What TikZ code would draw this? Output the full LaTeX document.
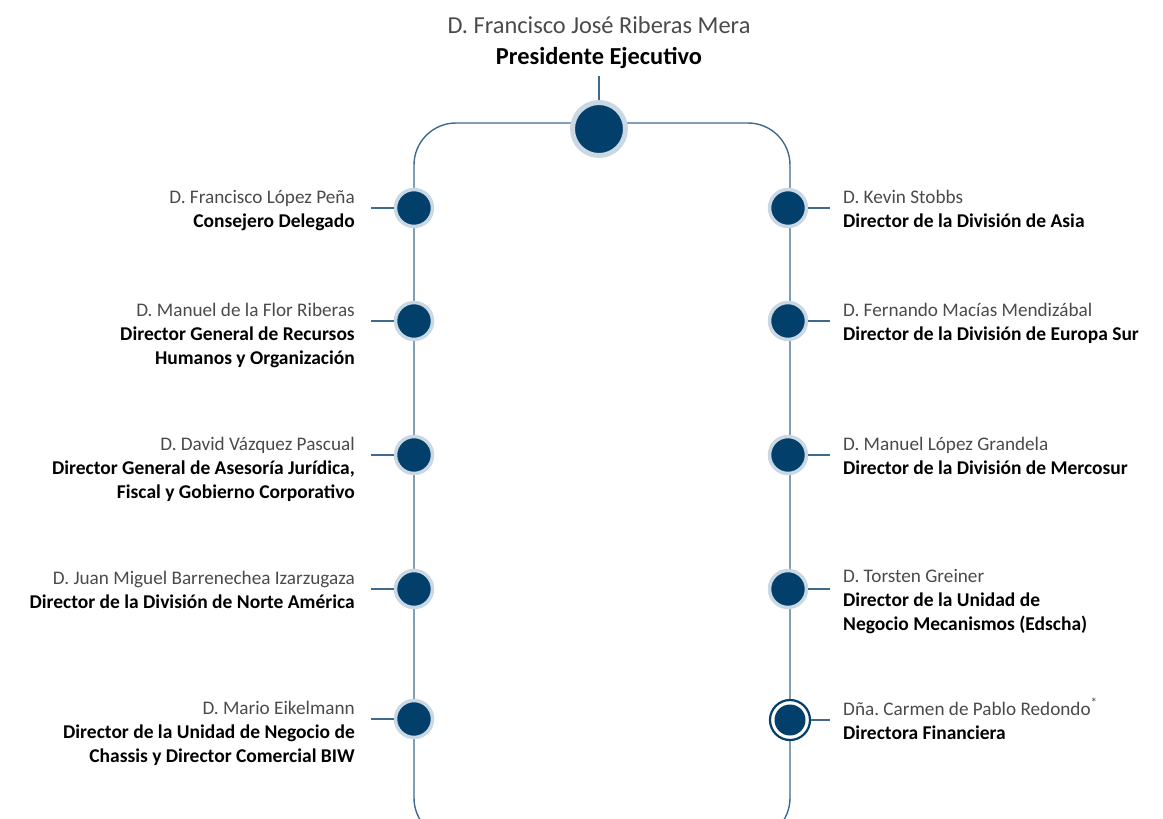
\documentclass[tikz,border=0pt]{standalone}
\usepackage{fontspec}
\setmainfont{Carlito}
\definecolor{navy}{HTML}{023F6A}
\definecolor{halo}{HTML}{CAD8E4}
\definecolor{linec}{HTML}{3D6A8E}
\definecolor{namegray}{HTML}{4A4A4A}
\newcommand{\pname}[1]{{\color{namegray}\fontsize{19.2}{24}\selectfont #1}}
\newcommand{\ptitle}[1]{{\bfseries #1}}
\tikzset{
  frame/.style={draw=linec, line width=1.4pt},
  conn/.style={draw=linec, line width=1.2pt},
  topnode/.style={circle, fill=navy, draw=halo, line width=5pt, minimum size=53pt, inner sep=0pt},
  pnode/.style={circle, fill=navy, draw=halo, line width=3.5pt, minimum size=37pt, inner sep=0pt},
  ringnode/.style={circle, fill=white, draw=navy, line width=2.2pt, minimum size=40pt, inner sep=0pt},
  innernode/.style={circle, fill=navy, minimum size=31pt, inner sep=0pt},
  lbl/.style={inner sep=0pt, font=\fontsize{19.5}{24}\selectfont},
  lleft/.style={lbl, anchor=north east, align=right},
  lright/.style={lbl, anchor=north west, align=left},
}
\begin{document}
\begin{tikzpicture}[x=1pt,y=-1pt]
\useasboundingbox (0,0) rectangle (1163,819);
\begin{scope}
\clip (0,0) rectangle (1163,819);
\draw[frame, rounded corners=42pt] (599,123) -- (790,123) -- (790,840) -- (414,840) -- (414,123) -- cycle;
\end{scope}

% top
\node[inner sep=0pt, anchor=base, font=\fontsize{24.4}{28}\selectfont] (presname) at (599,33) {\color{namegray}D. Francisco José Riberas Mera};
\node[inner sep=0pt, anchor=base, font=\fontsize{24.4}{28}\selectfont\bfseries] (prestitle) at (599,64) {Presidente Ejecutivo};
\coordinate (prestop) at (599,76);
\draw[conn] (599,101) -- (prestop);
\node[topnode] (pres) at (599,129) {};

% left nodes
\foreach \n/\y in {l1/208, l2/321, l3/455, l4/589, l5/719}{
  \node[pnode] (\n) at (414,\y) {};
  \coordinate (\n e) at (371,\y);
  \draw[conn] (\n.west) -- (\n e);
}
% right nodes
\foreach \n/\y in {r1/208, r2/321, r3/455, r4/589}{
  \node[pnode] (\n) at (788,\y) {};
  \coordinate (\n e) at (830,\y);
  \draw[conn] (\n.east) -- (\n e);
}
\node[ringnode] (r5) at (790,720) {};
\node[innernode] (r5in) at (790,720) {};
\coordinate (r5e) at (830,720);
\draw[conn] (r5.east) -- (r5e);

% left labels
\node[lleft] (l1t) at (355,186) {\strut\pname{D. Francisco López Peña}\\\ptitle{Consejero Delegado}};
\node[lleft] (l2t) at (355,299) {\strut\pname{D. Manuel de la Flor Riberas}\\\ptitle{Director General de Recursos}\\\ptitle{Humanos y Organización}};
\node[lleft] (l3t) at (355,433) {\strut\pname{D. David Vázquez Pascual}\\\ptitle{Director General de Asesoría Jurídica,}\\\ptitle{Fiscal y Gobierno Corporativo}};
\node[lleft] (l4t) at (355,567) {\strut\pname{D. Juan Miguel Barrenechea Izarzugaza}\\\ptitle{Director de la División de Norte América}};
\node[lleft] (l5t) at (355,697) {\strut\pname{D. Mario Eikelmann}\\\ptitle{Director de la Unidad de Negocio de}\\\ptitle{Chassis y Director Comercial BIW}};

% right labels
\node[lright] (r1t) at (843,186) {\strut\pname{D. Kevin Stobbs}\\\ptitle{Director de la División de Asia}};
\node[lright] (r2t) at (843,299) {\strut\pname{D. Fernando Macías Mendizábal}\\\ptitle{Director de la División de Europa Sur}};
\node[lright] (r3t) at (843,433) {\strut\pname{D. Manuel López Grandela}\\\ptitle{Director de la División de Mercosur}};
\node[lright] (r4t) at (843,565) {\strut\pname{D. Torsten Greiner}\\\ptitle{Director de la Unidad de}\\\ptitle{Negocio Mecanismos (Edscha)}};
\node[lright] (r5t) at (843,698) {\strut\pname{Dña.\ Carmen de Pablo Redondo\textsuperscript{*}}\\\ptitle{Directora Financiera}};
\end{tikzpicture}
\end{document}
